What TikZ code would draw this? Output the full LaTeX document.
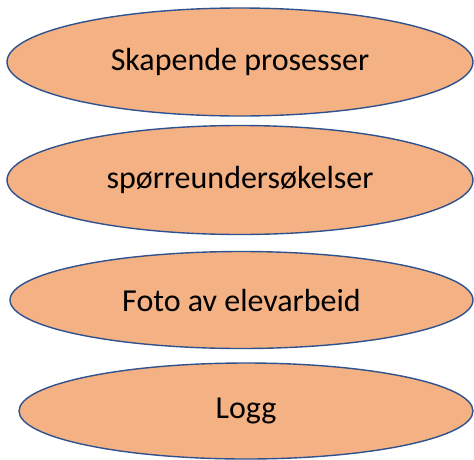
\documentclass[tikz,border=0pt]{standalone}
\usepackage{fontspec}
\setmainfont{Carlito}
\usetikzlibrary{shapes.geometric}
\definecolor{ovalfill}{HTML}{F4B183}
\definecolor{ovalline}{HTML}{2F528F}
\begin{document}
\begin{tikzpicture}[x=1pt,y=-1pt,
  oval/.style={ellipse, draw=ovalline, fill=ovalfill, line width=1.4pt, inner sep=0pt},
  ovaltext/.style={font=\fontsize{32}{36}\selectfont, text=black}]
\useasboundingbox (0,0) rectangle (474,459);
% four stacked ovals
\node[oval, minimum width=466pt, minimum height=108pt] (o1) at (240,62) {};
\node[oval, minimum width=466pt, minimum height=109pt] (o2) at (240,180) {};
\node[oval, minimum width=463pt, minimum height=97pt] (o3) at (241.5,300) {};
\node[oval, minimum width=454pt, minimum height=96pt] (o4) at (246,411) {};
% labels
\node[ovaltext] (t1) at (o1.center) {Skapende prosesser};
\node[ovaltext] (t2) at (o2.center) {spørreundersøkelser};
\node[ovaltext] (t3) at (o3.center) {Foto av elevarbeid};
\node[ovaltext] (t4) at (o4.center) {Logg};
\end{tikzpicture}
\end{document}
